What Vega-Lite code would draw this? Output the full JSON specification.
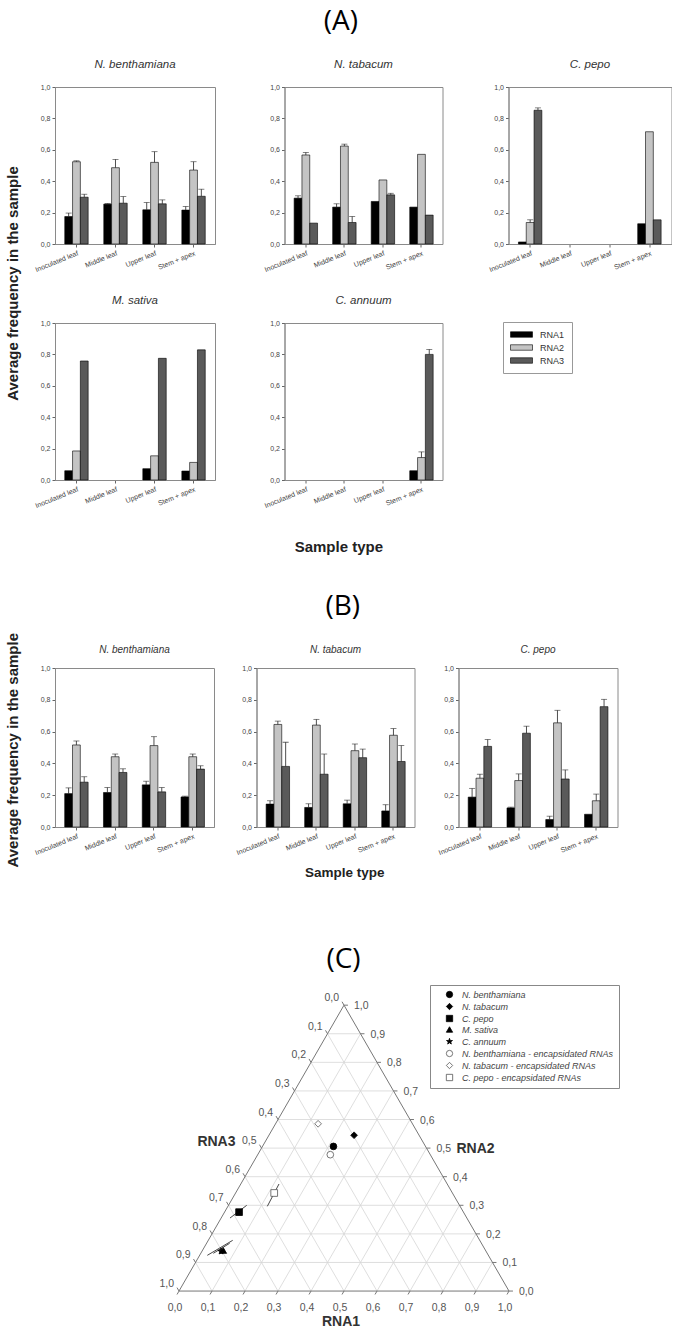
{
"$schema":"https://vega.github.io/schema/vega-lite/v6.json",
"padding":{"left":5,"top":7,"right":0,"bottom":0},
"background":"white",
"data":{"name":"bars"},
"datasets":{
"bars":[
{"s":"A","p":"N. benthamiana","t":"Inoculated leaf","r":"RNA1","v":0.175,"h":0.197},
{"s":"A","p":"N. benthamiana","t":"Inoculated leaf","r":"RNA2","v":0.524,"h":0.53},
{"s":"A","p":"N. benthamiana","t":"Inoculated leaf","r":"RNA3","v":0.298,"h":0.317},
{"s":"A","p":"N. benthamiana","t":"Middle leaf","r":"RNA1","v":0.254,"h":0.258},
{"s":"A","p":"N. benthamiana","t":"Middle leaf","r":"RNA2","v":0.486,"h":0.539},
{"s":"A","p":"N. benthamiana","t":"Middle leaf","r":"RNA3","v":0.26,"h":0.302},
{"s":"A","p":"N. benthamiana","t":"Upper leaf","r":"RNA1","v":0.218,"h":0.264},
{"s":"A","p":"N. benthamiana","t":"Upper leaf","r":"RNA2","v":0.52,"h":0.588},
{"s":"A","p":"N. benthamiana","t":"Upper leaf","r":"RNA3","v":0.256,"h":0.281},
{"s":"A","p":"N. benthamiana","t":"Stem + apex","r":"RNA1","v":0.216,"h":0.239},
{"s":"A","p":"N. benthamiana","t":"Stem + apex","r":"RNA2","v":0.471,"h":0.524},
{"s":"A","p":"N. benthamiana","t":"Stem + apex","r":"RNA3","v":0.304,"h":0.349},
{"s":"A","p":"N. tabacum","t":"Inoculated leaf","r":"RNA1","v":0.292,"h":0.307},
{"s":"A","p":"N. tabacum","t":"Inoculated leaf","r":"RNA2","v":0.567,"h":0.583},
{"s":"A","p":"N. tabacum","t":"Inoculated leaf","r":"RNA3","v":0.133,"h":null},
{"s":"A","p":"N. tabacum","t":"Middle leaf","r":"RNA1","v":0.235,"h":0.256},
{"s":"A","p":"N. tabacum","t":"Middle leaf","r":"RNA2","v":0.624,"h":0.636},
{"s":"A","p":"N. tabacum","t":"Middle leaf","r":"RNA3","v":0.137,"h":0.175},
{"s":"A","p":"N. tabacum","t":"Upper leaf","r":"RNA1","v":0.271,"h":null},
{"s":"A","p":"N. tabacum","t":"Upper leaf","r":"RNA2","v":0.408,"h":null},
{"s":"A","p":"N. tabacum","t":"Upper leaf","r":"RNA3","v":0.313,"h":0.323},
{"s":"A","p":"N. tabacum","t":"Stem + apex","r":"RNA1","v":0.235,"h":null},
{"s":"A","p":"N. tabacum","t":"Stem + apex","r":"RNA2","v":0.571,"h":null},
{"s":"A","p":"N. tabacum","t":"Stem + apex","r":"RNA3","v":0.184,"h":null},
{"s":"A","p":"C. pepo","t":"Inoculated leaf","r":"RNA1","v":0.013,"h":null},
{"s":"A","p":"C. pepo","t":"Inoculated leaf","r":"RNA2","v":0.137,"h":0.154},
{"s":"A","p":"C. pepo","t":"Inoculated leaf","r":"RNA3","v":0.852,"h":0.867},
{"s":"A","p":"C. pepo","t":"Stem + apex","r":"RNA1","v":0.129,"h":null},
{"s":"A","p":"C. pepo","t":"Stem + apex","r":"RNA2","v":0.715,"h":null},
{"s":"A","p":"C. pepo","t":"Stem + apex","r":"RNA3","v":0.154,"h":null},
{"s":"A","p":"M. sativa","t":"Inoculated leaf","r":"RNA1","v":0.059,"h":null},
{"s":"A","p":"M. sativa","t":"Inoculated leaf","r":"RNA2","v":0.185,"h":null},
{"s":"A","p":"M. sativa","t":"Inoculated leaf","r":"RNA3","v":0.758,"h":null},
{"s":"A","p":"M. sativa","t":"Upper leaf","r":"RNA1","v":0.072,"h":null},
{"s":"A","p":"M. sativa","t":"Upper leaf","r":"RNA2","v":0.154,"h":null},
{"s":"A","p":"M. sativa","t":"Upper leaf","r":"RNA3","v":0.775,"h":null},
{"s":"A","p":"M. sativa","t":"Stem + apex","r":"RNA1","v":0.057,"h":null},
{"s":"A","p":"M. sativa","t":"Stem + apex","r":"RNA2","v":0.112,"h":null},
{"s":"A","p":"M. sativa","t":"Stem + apex","r":"RNA3","v":0.829,"h":null},
{"s":"A","p":"C. annuum","t":"Stem + apex","r":"RNA1","v":0.059,"h":null},
{"s":"A","p":"C. annuum","t":"Stem + apex","r":"RNA2","v":0.143,"h":0.179},
{"s":"A","p":"C. annuum","t":"Stem + apex","r":"RNA3","v":0.8,"h":0.832},
{"s":"B","p":"N. benthamiana","t":"Inoculated leaf","r":"RNA1","v":0.21,"h":0.246},
{"s":"B","p":"N. benthamiana","t":"Inoculated leaf","r":"RNA2","v":0.516,"h":0.541},
{"s":"B","p":"N. benthamiana","t":"Inoculated leaf","r":"RNA3","v":0.282,"h":0.316},
{"s":"B","p":"N. benthamiana","t":"Middle leaf","r":"RNA1","v":0.217,"h":0.248},
{"s":"B","p":"N. benthamiana","t":"Middle leaf","r":"RNA2","v":0.442,"h":0.459},
{"s":"B","p":"N. benthamiana","t":"Middle leaf","r":"RNA3","v":0.343,"h":0.366},
{"s":"B","p":"N. benthamiana","t":"Upper leaf","r":"RNA1","v":0.265,"h":0.288},
{"s":"B","p":"N. benthamiana","t":"Upper leaf","r":"RNA2","v":0.512,"h":0.568},
{"s":"B","p":"N. benthamiana","t":"Upper leaf","r":"RNA3","v":0.221,"h":0.248},
{"s":"B","p":"N. benthamiana","t":"Stem + apex","r":"RNA1","v":0.189,"h":0.194},
{"s":"B","p":"N. benthamiana","t":"Stem + apex","r":"RNA2","v":0.442,"h":0.459},
{"s":"B","p":"N. benthamiana","t":"Stem + apex","r":"RNA3","v":0.364,"h":0.385},
{"s":"B","p":"N. tabacum","t":"Inoculated leaf","r":"RNA1","v":0.144,"h":0.165},
{"s":"B","p":"N. tabacum","t":"Inoculated leaf","r":"RNA2","v":0.645,"h":0.666},
{"s":"B","p":"N. tabacum","t":"Inoculated leaf","r":"RNA3","v":0.381,"h":0.533},
{"s":"B","p":"N. tabacum","t":"Middle leaf","r":"RNA1","v":0.123,"h":0.146},
{"s":"B","p":"N. tabacum","t":"Middle leaf","r":"RNA2","v":0.641,"h":0.677},
{"s":"B","p":"N. tabacum","t":"Middle leaf","r":"RNA3","v":0.332,"h":0.459},
{"s":"B","p":"N. tabacum","t":"Upper leaf","r":"RNA1","v":0.146,"h":0.169},
{"s":"B","p":"N. tabacum","t":"Upper leaf","r":"RNA2","v":0.48,"h":0.522},
{"s":"B","p":"N. tabacum","t":"Upper leaf","r":"RNA3","v":0.436,"h":0.49},
{"s":"B","p":"N. tabacum","t":"Stem + apex","r":"RNA1","v":0.101,"h":0.14},
{"s":"B","p":"N. tabacum","t":"Stem + apex","r":"RNA2","v":0.577,"h":0.619},
{"s":"B","p":"N. tabacum","t":"Stem + apex","r":"RNA3","v":0.412,"h":0.512},
{"s":"B","p":"C. pepo","t":"Inoculated leaf","r":"RNA1","v":0.188,"h":0.243},
{"s":"B","p":"C. pepo","t":"Inoculated leaf","r":"RNA2","v":0.307,"h":0.332},
{"s":"B","p":"C. pepo","t":"Inoculated leaf","r":"RNA3","v":0.507,"h":0.55},
{"s":"B","p":"C. pepo","t":"Middle leaf","r":"RNA1","v":0.12,"h":0.125},
{"s":"B","p":"C. pepo","t":"Middle leaf","r":"RNA2","v":0.292,"h":0.334},
{"s":"B","p":"C. pepo","t":"Middle leaf","r":"RNA3","v":0.59,"h":0.634},
{"s":"B","p":"C. pepo","t":"Upper leaf","r":"RNA1","v":0.047,"h":0.068},
{"s":"B","p":"C. pepo","t":"Upper leaf","r":"RNA2","v":0.655,"h":0.734},
{"s":"B","p":"C. pepo","t":"Upper leaf","r":"RNA3","v":0.302,"h":0.359},
{"s":"B","p":"C. pepo","t":"Stem + apex","r":"RNA1","v":0.08,"h":null},
{"s":"B","p":"C. pepo","t":"Stem + apex","r":"RNA2","v":0.165,"h":0.207},
{"s":"B","p":"C. pepo","t":"Stem + apex","r":"RNA3","v":0.757,"h":0.803}
],
"tl":[
{"k":"g","a":0,"b":0.1,"a2":0.9,"b2":0.1},
{"k":"g","a":0,"b":0.2,"a2":0.8,"b2":0.2},
{"k":"g","a":0,"b":0.3,"a2":0.7,"b2":0.3},
{"k":"g","a":0,"b":0.4,"a2":0.6,"b2":0.4},
{"k":"g","a":0,"b":0.5,"a2":0.5,"b2":0.5},
{"k":"g","a":0,"b":0.6,"a2":0.4,"b2":0.6},
{"k":"g","a":0,"b":0.7,"a2":0.3,"b2":0.7},
{"k":"g","a":0,"b":0.8,"a2":0.2,"b2":0.8},
{"k":"g","a":0,"b":0.9,"a2":0.1,"b2":0.9},
{"k":"g","a":0.1,"b":0,"a2":0.1,"b2":0.9},
{"k":"g","a":0.2,"b":0,"a2":0.2,"b2":0.8},
{"k":"g","a":0.3,"b":0,"a2":0.3,"b2":0.7},
{"k":"g","a":0.4,"b":0,"a2":0.4,"b2":0.6},
{"k":"g","a":0.5,"b":0,"a2":0.5,"b2":0.5},
{"k":"g","a":0.6,"b":0,"a2":0.6,"b2":0.4},
{"k":"g","a":0.7,"b":0,"a2":0.7,"b2":0.3},
{"k":"g","a":0.8,"b":0,"a2":0.8,"b2":0.2},
{"k":"g","a":0.9,"b":0,"a2":0.9,"b2":0.1},
{"k":"g","a":0,"b":0.9,"a2":0.9,"b2":0},
{"k":"g","a":0,"b":0.8,"a2":0.8,"b2":0},
{"k":"g","a":0,"b":0.7,"a2":0.7,"b2":0},
{"k":"g","a":0,"b":0.6,"a2":0.6,"b2":0},
{"k":"g","a":0,"b":0.5,"a2":0.5,"b2":0},
{"k":"g","a":0,"b":0.4,"a2":0.4,"b2":0},
{"k":"g","a":0,"b":0.3,"a2":0.3,"b2":0},
{"k":"g","a":0,"b":0.2,"a2":0.2,"b2":0},
{"k":"g","a":0,"b":0.1,"a2":0.1,"b2":0},
{"k":"s","a":0,"b":0,"a2":1,"b2":0},
{"k":"s","a":1,"b":0,"a2":0,"b2":1},
{"k":"s","a":0,"b":1,"a2":0,"b2":0},
{"k":"t","a":0,"b":0,"a2":0,"b2":-0.012},
{"k":"t","a":0.1,"b":0,"a2":0.1,"b2":-0.012},
{"k":"t","a":0.2,"b":0,"a2":0.2,"b2":-0.012},
{"k":"t","a":0.3,"b":0,"a2":0.3,"b2":-0.012},
{"k":"t","a":0.4,"b":0,"a2":0.4,"b2":-0.012},
{"k":"t","a":0.5,"b":0,"a2":0.5,"b2":-0.012},
{"k":"t","a":0.6,"b":0,"a2":0.6,"b2":-0.012},
{"k":"t","a":0.7,"b":0,"a2":0.7,"b2":-0.012},
{"k":"t","a":0.8,"b":0,"a2":0.8,"b2":-0.012},
{"k":"t","a":0.9,"b":0,"a2":0.9,"b2":-0.012},
{"k":"t","a":1,"b":0,"a2":1,"b2":-0.012},
{"k":"t","a":1,"b":0,"a2":1.012,"b2":0},
{"k":"t","a":0.9,"b":0.1,"a2":0.912,"b2":0.1},
{"k":"t","a":0.8,"b":0.2,"a2":0.812,"b2":0.2},
{"k":"t","a":0.7,"b":0.3,"a2":0.712,"b2":0.3},
{"k":"t","a":0.6,"b":0.4,"a2":0.612,"b2":0.4},
{"k":"t","a":0.5,"b":0.5,"a2":0.512,"b2":0.5},
{"k":"t","a":0.4,"b":0.6,"a2":0.412,"b2":0.6},
{"k":"t","a":0.3,"b":0.7,"a2":0.312,"b2":0.7},
{"k":"t","a":0.2,"b":0.8,"a2":0.212,"b2":0.8},
{"k":"t","a":0.1,"b":0.9,"a2":0.112,"b2":0.9},
{"k":"t","a":0,"b":1,"a2":0.012,"b2":1},
{"k":"t","a":0,"b":1,"a2":-0.012,"b2":1.012},
{"k":"t","a":0,"b":0.9,"a2":-0.012,"b2":0.912},
{"k":"t","a":0,"b":0.8,"a2":-0.012,"b2":0.812},
{"k":"t","a":0,"b":0.7,"a2":-0.012,"b2":0.712},
{"k":"t","a":0,"b":0.6,"a2":-0.012,"b2":0.612},
{"k":"t","a":0,"b":0.5,"a2":-0.012,"b2":0.512},
{"k":"t","a":0,"b":0.4,"a2":-0.012,"b2":0.412},
{"k":"t","a":0,"b":0.3,"a2":-0.012,"b2":0.312},
{"k":"t","a":0,"b":0.2,"a2":-0.012,"b2":0.212},
{"k":"t","a":0,"b":0.1,"a2":-0.012,"b2":0.112},
{"k":"t","a":0,"b":0,"a2":-0.012,"b2":0.012},
{"k":"e","a":0.0268,"b":0.2554,"a2":0.0552,"b2":0.2999},
{"k":"e","a":0.1194,"b":0.2964,"a2":0.1158,"b2":0.3744},
{"k":"e","a":0.0233,"b":0.125,"a2":0.074,"b2":0.1774},
{"k":"e","a":0.038,"b":0.132,"a2":0.07,"b2":0.167}
],
"tx":[
{"sd":"b","l":"0,0","a":0,"b":0},{"sd":"b","l":"0,1","a":0.1,"b":0},{"sd":"b","l":"0,2","a":0.2,"b":0},{"sd":"b","l":"0,3","a":0.3,"b":0},{"sd":"b","l":"0,4","a":0.4,"b":0},{"sd":"b","l":"0,5","a":0.5,"b":0},{"sd":"b","l":"0,6","a":0.6,"b":0},{"sd":"b","l":"0,7","a":0.7,"b":0},{"sd":"b","l":"0,8","a":0.8,"b":0},{"sd":"b","l":"0,9","a":0.9,"b":0},{"sd":"b","l":"1,0","a":1,"b":0},
{"sd":"r","l":"0,0","a":1,"b":0},{"sd":"r","l":"0,1","a":0.9,"b":0.1},{"sd":"r","l":"0,2","a":0.8,"b":0.2},{"sd":"r","l":"0,3","a":0.7,"b":0.3},{"sd":"r","l":"0,4","a":0.6,"b":0.4},{"sd":"r","l":"0,5","a":0.5,"b":0.5},{"sd":"r","l":"0,6","a":0.4,"b":0.6},{"sd":"r","l":"0,7","a":0.3,"b":0.7},{"sd":"r","l":"0,8","a":0.2,"b":0.8},{"sd":"r","l":"0,9","a":0.1,"b":0.9},{"sd":"r","l":"1,0","a":0,"b":1},
{"sd":"l","l":"0,0","a":0,"b":1},{"sd":"l","l":"0,1","a":0,"b":0.9},{"sd":"l","l":"0,2","a":0,"b":0.8},{"sd":"l","l":"0,3","a":0,"b":0.7},{"sd":"l","l":"0,4","a":0,"b":0.6},{"sd":"l","l":"0,5","a":0,"b":0.5},{"sd":"l","l":"0,6","a":0,"b":0.4},{"sd":"l","l":"0,7","a":0,"b":0.3},{"sd":"l","l":"0,8","a":0,"b":0.2},{"sd":"l","l":"0,9","a":0,"b":0.1},{"sd":"l","l":"1,0","a":0,"b":0}
],
"tt":[
{"sd":"b","l":"RNA1","a":0.5,"b":0},{"sd":"r","l":"RNA2","a":0.5,"b":0.5},{"sd":"l","l":"RNA3","a":0,"b":0.5}
],
"tp":[
{"sp":"N. benthamiana","a":0.215,"b":0.506},
{"sp":"N. tabacum","a":0.258,"b":0.545},
{"sp":"C. pepo","a":0.044,"b":0.276},
{"sp":"M. sativa","a":0.063,"b":0.142},
{"sp":"C. annuum","a":0.058,"b":0.139},
{"sp":"N. benthamiana - encapsidated RNAs","a":0.22,"b":0.477},
{"sp":"N. tabacum - encapsidated RNAs","a":0.129,"b":0.585},
{"sp":"C. pepo - encapsidated RNAs","a":0.117,"b":0.343}
]
},
"vconcat":[
{"spacing":37,"vconcat":[
{"title":{"text":"(A)","fontSize":28,"font":"Open Sans","fontStyle":"normal","fontWeight":"normal","color":"#000","anchor":"middle","offset":22.5,"dx":2},
 "vconcat":[{
  "title":{"text":"Sample type","orient":"bottom","anchor":"middle","fontSize":15,"fontStyle":"normal","fontWeight":"bold","font":"Liberation Sans","color":"#222","offset":31},
  "vconcat":[{
   "title":{"text":"Average frequency in the sample","orient":"left","anchor":"middle","fontSize":15,"fontStyle":"normal","fontWeight":"bold","font":"Liberation Sans","color":"#222","offset":12.5},
   "spacing":20,
   "vconcat":[
    {"spacing":43.5,"hconcat":[
     {"spacing":45.5,"hconcat":[
      {"width":160,"height":157,"title":{"text":"N. benthamiana","fontSize":11.5,"offset":13},
       "transform":[{"filter":"datum.s=='A' && datum.p=='N. benthamiana'"}],
       "encoding":{
        "x":{"field":"t","type":"nominal","title":null,"scale":{"domain":["Inoculated leaf","Middle leaf","Upper leaf","Stem + apex"],"paddingInner":0.4,"paddingOuter":0.25}},
        "xOffset":{"field":"r","type":"nominal","scale":{"domain":["RNA1","RNA2","RNA3"]}},
        "y":{"field":"v","type":"quantitative","title":null,"scale":{"domain":[0,1],"nice":false},"axis":{"values":[0,0.2,0.4,0.6,0.8,1],"labelExpr":"replace(format(datum.value,'.1f'),'.',',')"}}},
       "layer":[
        {"mark":{"type":"bar","stroke":"#000","strokeWidth":0.6},"encoding":{"color":{"field":"r","type":"nominal","scale":{"domain":["RNA1","RNA2","RNA3"],"range":["#000000","#c4c4c4","#5a5a5a"]},"legend":{"title":null,"orient":"none","legendX":448,"legendY":235,"symbolType":"M-2.2,-0.55H2.2V0.55H-2.2Z","symbolSize":100,"symbolOffset":6,"symbolStrokeColor":"#000","symbolStrokeWidth":0.6,"strokeColor":"#999","padding":7,"labelFontSize":9,"labelFont":"Liberation Sans","labelColor":"#333","rowPadding":2,"labelOffset":13}}}},
        {"transform":[{"filter":"isValid(datum.h)"}],"mark":{"type":"rule","color":"#222","strokeWidth":0.8},"encoding":{"y2":{"field":"h"}}},
        {"transform":[{"filter":"isValid(datum.h)"}],"mark":{"type":"tick","color":"#222","thickness":0.8,"size":6},"encoding":{"y":{"field":"h","type":"quantitative","title":null,"scale":{"domain":[0,1],"nice":false}}}}
       ]},
      {"width":158,"height":157,"title":{"text":"N. tabacum","fontSize":11.5,"offset":13},
       "transform":[{"filter":"datum.s=='A' && datum.p=='N. tabacum'"}],
       "encoding":{
        "x":{"field":"t","type":"nominal","title":null,"scale":{"domain":["Inoculated leaf","Middle leaf","Upper leaf","Stem + apex"],"paddingInner":0.4,"paddingOuter":0.25}},
        "xOffset":{"field":"r","type":"nominal","scale":{"domain":["RNA1","RNA2","RNA3"]}},
        "y":{"field":"v","type":"quantitative","title":null,"scale":{"domain":[0,1],"nice":false},"axis":{"values":[0,0.2,0.4,0.6,0.8,1],"labelExpr":"replace(format(datum.value,'.1f'),'.',',')"}}},
       "layer":[
        {"mark":{"type":"bar","stroke":"#000","strokeWidth":0.6},"encoding":{"color":{"field":"r","type":"nominal","scale":{"domain":["RNA1","RNA2","RNA3"],"range":["#000000","#c4c4c4","#5a5a5a"]},"legend":{"title":null,"orient":"none","legendX":448,"legendY":235,"symbolType":"M-2.2,-0.55H2.2V0.55H-2.2Z","symbolSize":100,"symbolOffset":6,"symbolStrokeColor":"#000","symbolStrokeWidth":0.6,"strokeColor":"#999","padding":7,"labelFontSize":9,"labelFont":"Liberation Sans","labelColor":"#333","rowPadding":2,"labelOffset":13}}}},
        {"transform":[{"filter":"isValid(datum.h)"}],"mark":{"type":"rule","color":"#222","strokeWidth":0.8},"encoding":{"y2":{"field":"h"}}},
        {"transform":[{"filter":"isValid(datum.h)"}],"mark":{"type":"tick","color":"#222","thickness":0.8,"size":6},"encoding":{"y":{"field":"h","type":"quantitative","title":null,"scale":{"domain":[0,1],"nice":false}}}}
       ]}
     ]},
     {"width":163,"height":157,"title":{"text":"C. pepo","fontSize":11.5,"offset":13},
      "transform":[{"filter":"datum.s=='A' && datum.p=='C. pepo'"}],
      "encoding":{
       "x":{"field":"t","type":"nominal","title":null,"scale":{"domain":["Inoculated leaf","Middle leaf","Upper leaf","Stem + apex"],"paddingInner":0.4,"paddingOuter":0.25}},
       "xOffset":{"field":"r","type":"nominal","scale":{"domain":["RNA1","RNA2","RNA3"]}},
       "y":{"field":"v","type":"quantitative","title":null,"scale":{"domain":[0,1],"nice":false},"axis":{"values":[0,0.2,0.4,0.6,0.8,1],"labelExpr":"replace(format(datum.value,'.1f'),'.',',')"}}},
      "layer":[
       {"mark":{"type":"bar","stroke":"#000","strokeWidth":0.6},"encoding":{"color":{"field":"r","type":"nominal","scale":{"domain":["RNA1","RNA2","RNA3"],"range":["#000000","#c4c4c4","#5a5a5a"]},"legend":{"title":null,"orient":"none","legendX":448,"legendY":235,"symbolType":"M-2.2,-0.55H2.2V0.55H-2.2Z","symbolSize":100,"symbolOffset":6,"symbolStrokeColor":"#000","symbolStrokeWidth":0.6,"strokeColor":"#999","padding":7,"labelFontSize":9,"labelFont":"Liberation Sans","labelColor":"#333","rowPadding":2,"labelOffset":13}}}},
       {"transform":[{"filter":"isValid(datum.h)"}],"mark":{"type":"rule","color":"#222","strokeWidth":0.8},"encoding":{"y2":{"field":"h"}}},
       {"transform":[{"filter":"isValid(datum.h)"}],"mark":{"type":"tick","color":"#222","thickness":0.8,"size":6},"encoding":{"y":{"field":"h","type":"quantitative","title":null,"scale":{"domain":[0,1],"nice":false}}}}
      ]}
    ]},
    {"spacing":45.5,"hconcat":[
     {"width":160,"height":157,"title":{"text":"M. sativa","fontSize":11.5,"offset":13},
      "transform":[{"filter":"datum.s=='A' && datum.p=='M. sativa'"}],
      "encoding":{
       "x":{"field":"t","type":"nominal","title":null,"scale":{"domain":["Inoculated leaf","Middle leaf","Upper leaf","Stem + apex"],"paddingInner":0.4,"paddingOuter":0.25}},
       "xOffset":{"field":"r","type":"nominal","scale":{"domain":["RNA1","RNA2","RNA3"]}},
       "y":{"field":"v","type":"quantitative","title":null,"scale":{"domain":[0,1],"nice":false},"axis":{"values":[0,0.2,0.4,0.6,0.8,1],"labelExpr":"replace(format(datum.value,'.1f'),'.',',')"}}},
      "layer":[
       {"mark":{"type":"bar","stroke":"#000","strokeWidth":0.6},"encoding":{"color":{"field":"r","type":"nominal","scale":{"domain":["RNA1","RNA2","RNA3"],"range":["#000000","#c4c4c4","#5a5a5a"]},"legend":{"title":null,"orient":"none","legendX":448,"legendY":235,"symbolType":"M-2.2,-0.55H2.2V0.55H-2.2Z","symbolSize":100,"symbolOffset":6,"symbolStrokeColor":"#000","symbolStrokeWidth":0.6,"strokeColor":"#999","padding":7,"labelFontSize":9,"labelFont":"Liberation Sans","labelColor":"#333","rowPadding":2,"labelOffset":13}}}},
       {"transform":[{"filter":"isValid(datum.h)"}],"mark":{"type":"rule","color":"#222","strokeWidth":0.8},"encoding":{"y2":{"field":"h"}}},
       {"transform":[{"filter":"isValid(datum.h)"}],"mark":{"type":"tick","color":"#222","thickness":0.8,"size":6},"encoding":{"y":{"field":"h","type":"quantitative","title":null,"scale":{"domain":[0,1],"nice":false}}}}
      ]},
     {"width":158,"height":157,"title":{"text":"C. annuum","fontSize":11.5,"offset":13},
      "transform":[{"filter":"datum.s=='A' && datum.p=='C. annuum'"}],
      "encoding":{
       "x":{"field":"t","type":"nominal","title":null,"scale":{"domain":["Inoculated leaf","Middle leaf","Upper leaf","Stem + apex"],"paddingInner":0.4,"paddingOuter":0.25}},
       "xOffset":{"field":"r","type":"nominal","scale":{"domain":["RNA1","RNA2","RNA3"]}},
       "y":{"field":"v","type":"quantitative","title":null,"scale":{"domain":[0,1],"nice":false},"axis":{"values":[0,0.2,0.4,0.6,0.8,1],"labelExpr":"replace(format(datum.value,'.1f'),'.',',')"}}},
      "layer":[
       {"mark":{"type":"bar","stroke":"#000","strokeWidth":0.6},"encoding":{"color":{"field":"r","type":"nominal","scale":{"domain":["RNA1","RNA2","RNA3"],"range":["#000000","#c4c4c4","#5a5a5a"]},"legend":{"title":null,"orient":"none","legendX":448,"legendY":235,"symbolType":"M-2.2,-0.55H2.2V0.55H-2.2Z","symbolSize":100,"symbolOffset":6,"symbolStrokeColor":"#000","symbolStrokeWidth":0.6,"strokeColor":"#999","padding":7,"labelFontSize":9,"labelFont":"Liberation Sans","labelColor":"#333","rowPadding":2,"labelOffset":13}}}},
       {"transform":[{"filter":"isValid(datum.h)"}],"mark":{"type":"rule","color":"#222","strokeWidth":0.8},"encoding":{"y2":{"field":"h"}}},
       {"transform":[{"filter":"isValid(datum.h)"}],"mark":{"type":"tick","color":"#222","thickness":0.8,"size":6},"encoding":{"y":{"field":"h","type":"quantitative","title":null,"scale":{"domain":[0,1],"nice":false}}}}
      ]}
    ]}
   ]
  }]
 }]
},
{"title":{"text":"(B)","fontSize":28,"font":"Open Sans","fontStyle":"normal","fontWeight":"normal","color":"#000","anchor":"middle","offset":12,"dx":31},
 "vconcat":[{
  "title":{"text":"Sample type","orient":"bottom","anchor":"middle","fontSize":13.5,"fontStyle":"normal","fontWeight":"bold","font":"Liberation Sans","color":"#222","offset":-1.5,"dx":33},
  "vconcat":[{
   "title":{"text":"Average frequency in the sample","orient":"left","anchor":"middle","fontSize":15,"fontStyle":"normal","fontWeight":"bold","font":"Liberation Sans","color":"#222","offset":12.5},
   "spacing":21.5,
   "hconcat":[
    {"spacing":18.5,"hconcat":[
     {"width":159,"height":159,"title":{"text":"N. benthamiana"},
      "transform":[{"filter":"datum.s=='B' && datum.p=='N. benthamiana'"}],
      "encoding":{
       "x":{"field":"t","type":"nominal","title":null,"scale":{"domain":["Inoculated leaf","Middle leaf","Upper leaf","Stem + apex"],"paddingInner":0.4,"paddingOuter":0.25}},
       "xOffset":{"field":"r","type":"nominal","scale":{"domain":["RNA1","RNA2","RNA3"]}},
       "y":{"field":"v","type":"quantitative","title":null,"scale":{"domain":[0,1],"nice":false},"axis":{"values":[0,0.2,0.4,0.6,0.8,1],"labelExpr":"replace(format(datum.value,'.1f'),'.',',')"}}},
      "layer":[
       {"mark":{"type":"bar","stroke":"#000","strokeWidth":0.6},"encoding":{"color":{"field":"r","type":"nominal","scale":{"domain":["RNA1","RNA2","RNA3"],"range":["#000000","#c4c4c4","#5a5a5a"]},"legend":{"title":null,"orient":"none","legendX":448,"legendY":235,"symbolType":"M-2.2,-0.55H2.2V0.55H-2.2Z","symbolSize":100,"symbolOffset":6,"symbolStrokeColor":"#000","symbolStrokeWidth":0.6,"strokeColor":"#999","padding":7,"labelFontSize":9,"labelFont":"Liberation Sans","labelColor":"#333","rowPadding":2,"labelOffset":13}}}},
       {"transform":[{"filter":"isValid(datum.h)"}],"mark":{"type":"rule","color":"#222","strokeWidth":0.8},"encoding":{"y2":{"field":"h"}}},
       {"transform":[{"filter":"isValid(datum.h)"}],"mark":{"type":"tick","color":"#222","thickness":0.8,"size":6},"encoding":{"y":{"field":"h","type":"quantitative","title":null,"scale":{"domain":[0,1],"nice":false}}}}
      ]},
     {"width":158,"height":159,"title":{"text":"N. tabacum"},
      "transform":[{"filter":"datum.s=='B' && datum.p=='N. tabacum'"}],
      "encoding":{
       "x":{"field":"t","type":"nominal","title":null,"scale":{"domain":["Inoculated leaf","Middle leaf","Upper leaf","Stem + apex"],"paddingInner":0.4,"paddingOuter":0.25}},
       "xOffset":{"field":"r","type":"nominal","scale":{"domain":["RNA1","RNA2","RNA3"]}},
       "y":{"field":"v","type":"quantitative","title":null,"scale":{"domain":[0,1],"nice":false},"axis":{"values":[0,0.2,0.4,0.6,0.8,1],"labelExpr":"replace(format(datum.value,'.1f'),'.',',')"}}},
      "layer":[
       {"mark":{"type":"bar","stroke":"#000","strokeWidth":0.6},"encoding":{"color":{"field":"r","type":"nominal","scale":{"domain":["RNA1","RNA2","RNA3"],"range":["#000000","#c4c4c4","#5a5a5a"]},"legend":{"title":null,"orient":"none","legendX":448,"legendY":235,"symbolType":"M-2.2,-0.55H2.2V0.55H-2.2Z","symbolSize":100,"symbolOffset":6,"symbolStrokeColor":"#000","symbolStrokeWidth":0.6,"strokeColor":"#999","padding":7,"labelFontSize":9,"labelFont":"Liberation Sans","labelColor":"#333","rowPadding":2,"labelOffset":13}}}},
       {"transform":[{"filter":"isValid(datum.h)"}],"mark":{"type":"rule","color":"#222","strokeWidth":0.8},"encoding":{"y2":{"field":"h"}}},
       {"transform":[{"filter":"isValid(datum.h)"}],"mark":{"type":"tick","color":"#222","thickness":0.8,"size":6},"encoding":{"y":{"field":"h","type":"quantitative","title":null,"scale":{"domain":[0,1],"nice":false}}}}
      ]}
    ]},
    {"width":159,"height":159,"title":{"text":"C. pepo"},
     "transform":[{"filter":"datum.s=='B' && datum.p=='C. pepo'"}],
     "encoding":{
      "x":{"field":"t","type":"nominal","title":null,"scale":{"domain":["Inoculated leaf","Middle leaf","Upper leaf","Stem + apex"],"paddingInner":0.4,"paddingOuter":0.25}},
      "xOffset":{"field":"r","type":"nominal","scale":{"domain":["RNA1","RNA2","RNA3"]}},
      "y":{"field":"v","type":"quantitative","title":null,"scale":{"domain":[0,1],"nice":false},"axis":{"values":[0,0.2,0.4,0.6,0.8,1],"labelExpr":"replace(format(datum.value,'.1f'),'.',',')"}}},
     "layer":[
      {"mark":{"type":"bar","stroke":"#000","strokeWidth":0.6},"encoding":{"color":{"field":"r","type":"nominal","scale":{"domain":["RNA1","RNA2","RNA3"],"range":["#000000","#c4c4c4","#5a5a5a"]},"legend":{"title":null,"orient":"none","legendX":448,"legendY":235,"symbolType":"M-2.2,-0.55H2.2V0.55H-2.2Z","symbolSize":100,"symbolOffset":6,"symbolStrokeColor":"#000","symbolStrokeWidth":0.6,"strokeColor":"#999","padding":7,"labelFontSize":9,"labelFont":"Liberation Sans","labelColor":"#333","rowPadding":2,"labelOffset":13}}}},
      {"transform":[{"filter":"isValid(datum.h)"}],"mark":{"type":"rule","color":"#222","strokeWidth":0.8},"encoding":{"y2":{"field":"h"}}},
      {"transform":[{"filter":"isValid(datum.h)"}],"mark":{"type":"tick","color":"#222","thickness":0.8,"size":6},"encoding":{"y":{"field":"h","type":"quantitative","title":null,"scale":{"domain":[0,1],"nice":false}}}}
     ]}
   ]
  }]
 }]
}
]},
{"title":{"text":"(C)","fontSize":28,"font":"Open Sans","fontStyle":"normal","fontWeight":"normal","color":"#000","anchor":"middle","offset":14,"dx":-19},
 "width":615,"height":343,
 "view":{"stroke":null},
 "encoding":{
  "x":{"field":"x","type":"quantitative","scale":{"domain":[-0.3758,1.4879],"nice":false,"zero":false},"axis":null},
  "y":{"field":"y","type":"quantitative","scale":{"domain":[-0.121,0.918],"nice":false,"zero":false},"axis":null}
 },
 "layer":[
  {"data":{"name":"tl"},"transform":[{"filter":"datum.k=='g'"},{"calculate":"datum.a+datum.b/2","as":"x"},{"calculate":"datum.b*0.8660254","as":"y"},{"calculate":"datum.a2+datum.b2/2","as":"x2"},{"calculate":"datum.b2*0.8660254","as":"y2"}],
   "mark":{"type":"rule","color":"#d6d6d6","strokeWidth":0.8},"encoding":{"x2":{"field":"x2"},"y2":{"field":"y2"}}},
  {"data":{"name":"tl"},"transform":[{"filter":"datum.k=='s' || datum.k=='t'"},{"calculate":"datum.a+datum.b/2","as":"x"},{"calculate":"datum.b*0.8660254","as":"y"},{"calculate":"datum.a2+datum.b2/2","as":"x2"},{"calculate":"datum.b2*0.8660254","as":"y2"}],
   "mark":{"type":"rule","color":"#777","strokeWidth":1},"encoding":{"x2":{"field":"x2"},"y2":{"field":"y2"}}},
  {"data":{"name":"tl"},"transform":[{"filter":"datum.k=='e'"},{"calculate":"datum.a+datum.b/2","as":"x"},{"calculate":"datum.b*0.8660254","as":"y"},{"calculate":"datum.a2+datum.b2/2","as":"x2"},{"calculate":"datum.b2*0.8660254","as":"y2"}],
   "mark":{"type":"rule","color":"#333","strokeWidth":0.9},"encoding":{"x2":{"field":"x2"},"y2":{"field":"y2"}}},
  {"data":{"name":"tp"},"transform":[{"calculate":"datum.a+datum.b/2","as":"x"},{"calculate":"datum.b*0.8660254","as":"y"}],
   "mark":{"type":"point","filled":true,"size":45,"strokeWidth":0.8,"opacity":1},
   "encoding":{
    "shape":{"field":"sp","type":"nominal","scale":{"domain":["N. benthamiana","N. tabacum","C. pepo","M. sativa","C. annuum","N. benthamiana - encapsidated RNAs","N. tabacum - encapsidated RNAs","C. pepo - encapsidated RNAs"],"range":["circle","diamond","square","triangle-up","M0,-1L0.235,-0.324L0.951,-0.309L0.38,0.124L0.588,0.809L0,0.4L-0.588,0.809L-0.38,0.124L-0.951,-0.309L-0.235,-0.324Z","circle","diamond","square"]},
     "legend":{"title":null,"orient":"none","legendX":375,"legendY":898,"strokeColor":"#888","padding":5,"symbolOffset":10,"labelFontSize":9,"labelFontStyle":"italic","labelFont":"Liberation Sans","labelColor":"#444","rowPadding":1,"symbolSize":40,"symbolStrokeWidth":0.8,"labelOffset":8,"labelLimit":300}},
    "fill":{"field":"sp","type":"nominal","scale":{"domain":["N. benthamiana","N. tabacum","C. pepo","M. sativa","C. annuum","N. benthamiana - encapsidated RNAs","N. tabacum - encapsidated RNAs","C. pepo - encapsidated RNAs"],"range":["#000","#000","#000","#000","#000","#fff","#fff","#fff"]},
     "legend":{"title":null,"orient":"none","legendX":375,"legendY":898,"strokeColor":"#888","padding":5,"symbolOffset":10,"labelFontSize":9,"labelFontStyle":"italic","labelFont":"Liberation Sans","labelColor":"#444","rowPadding":1,"symbolSize":40,"symbolStrokeWidth":0.8,"labelOffset":8,"labelLimit":300}},
    "stroke":{"field":"sp","type":"nominal","scale":{"domain":["N. benthamiana","N. tabacum","C. pepo","M. sativa","C. annuum","N. benthamiana - encapsidated RNAs","N. tabacum - encapsidated RNAs","C. pepo - encapsidated RNAs"],"range":["#000","#000","#000","#000","#000","#555","#555","#555"]},
     "legend":{"title":null,"orient":"none","legendX":375,"legendY":898,"strokeColor":"#888","padding":5,"symbolOffset":10,"labelFontSize":9,"labelFontStyle":"italic","labelFont":"Liberation Sans","labelColor":"#444","rowPadding":1,"symbolSize":40,"symbolStrokeWidth":0.8,"labelOffset":8,"labelLimit":300}}
   }},
  {"data":{"name":"tx"},"transform":[{"filter":"datum.sd=='b'"},{"calculate":"datum.a+datum.b/2","as":"x"},{"calculate":"datum.b*0.8660254","as":"y"}],
   "mark":{"type":"text","dx":-4,"dy":17,"align":"center","baseline":"middle","fontSize":10.5,"font":"Liberation Sans","color":"#555"},"encoding":{"text":{"field":"l"}}},
  {"data":{"name":"tx"},"transform":[{"filter":"datum.sd=='r'"},{"calculate":"datum.a+datum.b/2","as":"x"},{"calculate":"datum.b*0.8660254","as":"y"}],
   "mark":{"type":"text","dx":10,"dy":1,"align":"left","baseline":"middle","fontSize":10.5,"font":"Liberation Sans","color":"#555"},"encoding":{"text":{"field":"l"}}},
  {"data":{"name":"tx"},"transform":[{"filter":"datum.sd=='l'"},{"calculate":"datum.a+datum.b/2","as":"x"},{"calculate":"datum.b*0.8660254","as":"y"}],
   "mark":{"type":"text","dx":-5,"dy":-7,"align":"right","baseline":"middle","fontSize":10.5,"font":"Liberation Sans","color":"#555"},"encoding":{"text":{"field":"l"}}},
  {"data":{"name":"tt"},"transform":[{"filter":"datum.sd=='b'"},{"calculate":"datum.a+datum.b/2","as":"x"},{"calculate":"datum.b*0.8660254","as":"y"}],
   "mark":{"type":"text","dx":-3,"dy":31,"align":"center","baseline":"middle","fontSize":14,"fontWeight":"bold","font":"Liberation Sans","color":"#333"},"encoding":{"text":{"field":"l"}}},
  {"data":{"name":"tt"},"transform":[{"filter":"datum.sd=='r'"},{"calculate":"datum.a+datum.b/2","as":"x"},{"calculate":"datum.b*0.8660254","as":"y"}],
   "mark":{"type":"text","dx":30,"dy":1,"align":"left","baseline":"middle","fontSize":14,"fontWeight":"bold","font":"Liberation Sans","color":"#333"},"encoding":{"text":{"field":"l"}}},
  {"data":{"name":"tt"},"transform":[{"filter":"datum.sd=='l'"},{"calculate":"datum.a+datum.b/2","as":"x"},{"calculate":"datum.b*0.8660254","as":"y"}],
   "mark":{"type":"text","dx":-26,"dy":-6,"align":"right","baseline":"middle","fontSize":14,"fontWeight":"bold","font":"Liberation Sans","color":"#333"},"encoding":{"text":{"field":"l"}}}
 ]}
],
"spacing":66,
"config":{
 "font":"Liberation Sans",
 "view":{"stroke":"#8a8a8a","strokeWidth":1},
 "axis":{"grid":false,"domainColor":"#8a8a8a","tickColor":"#666","labelColor":"#444","labelFont":"Liberation Sans","labelFontSize":7,"tickSize":3,"labelPadding":2,"titleFont":"Liberation Sans"},
 "axisX":{"labelAngle":-22,"labelFontSize":7},
 "title":{"fontSize":10,"fontStyle":"italic","fontWeight":"normal","font":"Liberation Sans","color":"#333","offset":9,"anchor":"middle"}
}
}
